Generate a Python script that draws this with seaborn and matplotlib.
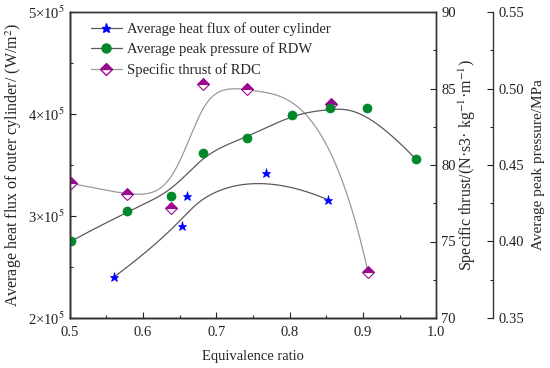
import numpy as np
import pandas as pd
import matplotlib
matplotlib.use("Agg")
import matplotlib.pyplot as plt
import seaborn as sns
from matplotlib.lines import Line2D
from matplotlib.ticker import MultipleLocator, FuncFormatter

# --- data ---
heat_phi = [0.560, 0.653, 0.660, 0.768, 0.852]
heat_flux = [2.40e5, 2.90e5, 3.20e5, 3.42e5, 3.16e5]

press_phi = [0.501, 0.578, 0.638, 0.682, 0.742, 0.803, 0.855, 0.906, 0.972]
peak_pressure = [0.400, 0.420, 0.430, 0.458, 0.468, 0.483, 0.487, 0.487, 0.454]

thrust_phi = [0.501, 0.578, 0.638, 0.682, 0.742, 0.856, 0.907]
spec_thrust = [78.8, 78.1, 77.2, 85.3, 85.0, 84.0, 73.0]


def bspline(cx, cy, k=3, num=300):
    """Clamped uniform B-spline using the data points as control points."""
    cx, cy = np.asarray(cx, float), np.asarray(cy, float)
    n = len(cx)
    k = min(k, n - 1)
    t = np.concatenate([np.zeros(k), np.linspace(0, 1, n - k + 1), np.ones(k)])
    u = np.linspace(0, 1 - 1e-9, num)
    B = np.array([(t[i] <= u) & (u < t[i + 1]) for i in range(len(t) - 1)], float).T
    for d in range(1, k + 1):
        Bn = np.zeros((num, len(t) - 1 - d))
        for i in range(len(t) - 1 - d):
            a = t[i + d] - t[i]
            b = t[i + d + 1] - t[i + 1]
            left = (u - t[i]) / a * B[:, i] if a > 0 else 0
            right = (t[i + d + 1] - u) / b * B[:, i + 1] if b > 0 else 0
            Bn[:, i] = left + right
        B = Bn
    return B @ cx, B @ cy


sns.set_theme(style="ticks")
plt.rcParams["font.family"] = ["Liberation Serif", "DejaVu Serif"]
plt.rcParams["mathtext.fontset"] = "stix"
plt.rcParams["xtick.direction"] = "in"
plt.rcParams["ytick.direction"] = "in"

BLUE = "#0000ff"
GREEN = "#00882a"
PURPLE = "#9b0a8e"
DARK = "#5a5a5a"
LIGHT = "#9a9a9a"

fig = plt.figure(figsize=(5.5, 3.68), dpi=100)
ax = fig.add_axes([0.127, 0.136, 0.666, 0.831])
ax2 = ax.twinx()
ax3 = ax.twinx()
ax3.spines["right"].set_position(("axes", 1.156))

# heat flux (left axis)
sx, sy = bspline(heat_phi, heat_flux)
sns.lineplot(x=sx, y=sy, ax=ax, color=DARK, lw=0.9, sort=False, estimator=None)
sns.lineplot(x=heat_phi, y=heat_flux, ax=ax, linestyle="", marker="*", markersize=6.5,
             color=BLUE, markeredgecolor=BLUE, markeredgewidth=0.5, estimator=None)

# specific thrust (first right axis)
tx, ty = bspline(thrust_phi, spec_thrust)
sns.lineplot(x=tx, y=ty, ax=ax2, color=LIGHT, lw=0.9, sort=False, estimator=None)
sns.lineplot(x=thrust_phi, y=spec_thrust, ax=ax2, linestyle="", marker="D", markersize=5.8,
             color=PURPLE, fillstyle="top", markerfacecoloralt="white",
             markeredgecolor=PURPLE, markeredgewidth=0.8, estimator=None)

# peak pressure (second right axis)
px, py = bspline(press_phi, peak_pressure)
sns.lineplot(x=px, y=py, ax=ax3, color=DARK, lw=0.9, sort=False, estimator=None)
sns.lineplot(x=press_phi, y=peak_pressure, ax=ax3, linestyle="", marker="o", markersize=6.5,
             color=GREEN, markeredgecolor=GREEN, markeredgewidth=0.5, estimator=None)

# axes ranges and ticks
ax.set_xlim(0.5, 1.0)
ax.set_ylim(2e5, 5e5)
ax2.set_ylim(70, 90)
ax3.set_ylim(0.35, 0.55)

ax.xaxis.set_major_locator(MultipleLocator(0.1))
ax.xaxis.set_minor_locator(MultipleLocator(0.05))
ax.yaxis.set_major_locator(MultipleLocator(1e5))
ax.yaxis.set_minor_locator(MultipleLocator(0.5e5))
ax.yaxis.set_major_formatter(FuncFormatter(lambda v, p: f"{int(round(v / 1e5))}×10$^5$"))
ax.xaxis.set_major_formatter(FuncFormatter(lambda v, p: f"{v:.1f}"))
ax2.yaxis.set_major_locator(MultipleLocator(5))
ax2.yaxis.set_minor_locator(MultipleLocator(2.5))
ax3.yaxis.set_major_locator(MultipleLocator(0.05))
ax3.yaxis.set_minor_locator(MultipleLocator(0.025))
ax3.yaxis.set_major_formatter(FuncFormatter(lambda v, p: f"{v:.2f}"))

for a in (ax, ax2, ax3):
    a.tick_params(which="major", length=4, width=0.8, labelsize=10.5, colors="#222222")
    a.tick_params(which="minor", length=2.5, width=0.8)
    for s in a.spines.values():
        s.set_color("#333333")
        s.set_linewidth(1.0)
    a.grid(False)
ax.tick_params(axis="x", pad=6)
ax3.spines["top"].set_visible(False)

ax.set_xlabel("Equivalence ratio", fontsize=10.5, labelpad=8)
ax.set_ylabel("Average heat flux of outer cylinder/ (W/m$^2$)", fontsize=11.5, labelpad=3)
ax2.set_ylabel("Specific thrust/(N·s3· kg$^{-1}$·m$^{-1}$)", fontsize=11.5, labelpad=1)
ax3.set_ylabel("Average peak pressure/MPa", fontsize=11, labelpad=6)

handles = [
    Line2D([], [], color=DARK, lw=0.9, marker="*", markersize=6.5, mfc=BLUE, mec=BLUE),
    Line2D([], [], color=DARK, lw=0.9, marker="o", markersize=6.5, mfc=GREEN, mec=GREEN),
    Line2D([], [], color=LIGHT, lw=0.9, marker="D", markersize=5.8, mfc=PURPLE, mec=PURPLE,
           fillstyle="top", markerfacecoloralt="white"),
]
labels = ["Average heat flux of outer cylinder", "Average peak pressure of RDW", "Specific thrust of RDC"]
ax.legend(handles, labels, loc="upper left", frameon=False, fontsize=10.5,
          handlelength=2.1, borderaxespad=0.3, labelspacing=0.45, handletextpad=0.35,
          bbox_to_anchor=(0.03, 1.0))

fig.savefig("out.png", dpi=100)
